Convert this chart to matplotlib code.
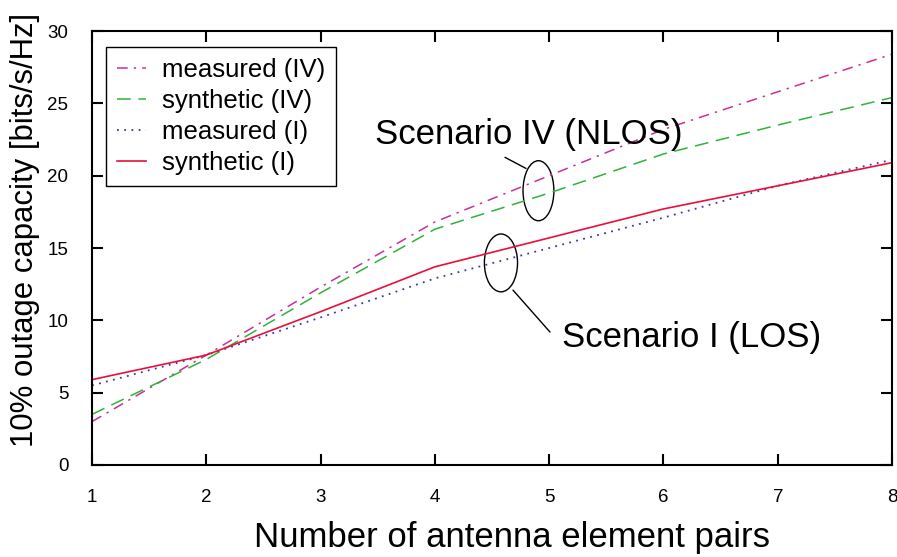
import matplotlib
matplotlib.use('Agg')
import matplotlib.pyplot as plt
from matplotlib.patches import Ellipse

# values
pairs = [1, 2, 3, 4, 5, 6, 7, 8]
measured_iv = [3.0, 7.6, 12.3, 16.8, 20.0, 23.2, 25.8, 28.4]
synthetic_iv = [3.5, 7.3, 11.9, 16.3, 18.8, 21.5, 23.5, 25.4]
measured_i = [5.5, 7.6, 10.2, 12.9, 15.0, 17.1, 19.3, 21.1]
synthetic_i = [5.9, 7.6, 10.6, 13.7, 15.7, 17.7, 19.3, 20.9]

plt.rcParams['font.family'] = ['Liberation Sans', 'DejaVu Sans']

fig = plt.figure(figsize=(8.97, 5.57), dpi=100)
ax = fig.add_axes([0.1026, 0.1652, 0.8919, 0.7791])

ax.plot(pairs, measured_iv, color='#cc2e99', lw=1.1, linestyle=(0, (7, 4, 1.5, 4)), label='measured (IV)')
ax.plot(pairs, synthetic_iv, color='#2eb33a', lw=1.1, linestyle=(0, (9, 5)), label='synthetic (IV)')
ax.plot(pairs, measured_i, color='#3a3a9e', lw=1.3, linestyle=(0, (1, 3)), label='measured (I)')
ax.plot(pairs, synthetic_i, color='#e8103a', lw=1.2, label='synthetic (I)')

ax.set_xlim(1, 8)
ax.set_ylim(0, 30)
ax.set_xticks(pairs)
ax.set_yticks([0, 5, 10, 15, 20, 25, 30])
ax.tick_params(direction='in', length=8, width=1.5, top=True, right=True, labelsize=13.5)
ax.tick_params(axis='x', pad=17)
ax.tick_params(axis='y', pad=17)
for s in ax.spines.values():
    s.set_linewidth(1.5)

ax.set_xlabel('Number of antenna element pairs', fontsize=25)
ax.xaxis.set_label_coords(0.525, -0.128)
ax.set_ylabel('10% outage capacity [bits/s/Hz]', fontsize=22.4)
ax.yaxis.set_label_coords(-0.065, 0.5415)

# ellipses marking the two scenarios
ax.add_patch(Ellipse((4.906, 18.96), 0.27, 4.15, fill=False, color='black', lw=1))
ax.add_patch(Ellipse((4.578, 13.97), 0.29, 4.0, fill=False, color='black', lw=1))
ax.annotate('', xy=(4.797, 20.5), xytext=(4.613, 21.27),
            arrowprops=dict(arrowstyle='-', color='black', lw=1, shrinkA=0, shrinkB=0))
ax.annotate('', xy=(4.683, 12.09), xytext=(5.007, 9.19),
            arrowprops=dict(arrowstyle='-', color='black', lw=1, shrinkA=0, shrinkB=0))
ax.text(3.476, 22.18, 'Scenario IV (NLOS)', fontsize=25, va='baseline', ha='left')
ax.text(5.112, 8.15, 'Scenario I (LOS)', fontsize=25, va='baseline', ha='left')

leg = ax.legend(loc='upper left', bbox_to_anchor=(0.0175, 0.963), borderaxespad=0, fontsize=18.5,
                handlelength=1.15, handletextpad=0.6, fancybox=False, framealpha=1,
                edgecolor='black', borderpad=0.42, labelspacing=0.28)
leg.get_frame().set_linewidth(1)

fig.savefig('out.png', dpi=100)
